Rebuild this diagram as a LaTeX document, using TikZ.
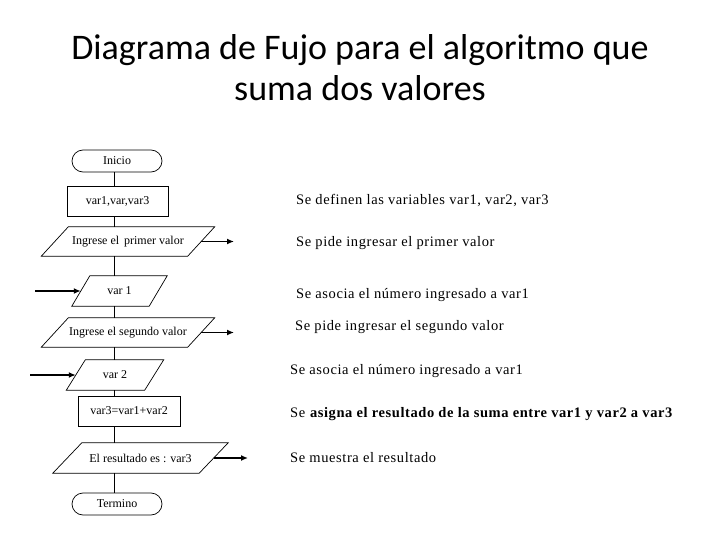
\documentclass[tikz,border=0pt]{standalone}
\usepackage{fontspec}
\setmainfont{Liberation Serif}
\newfontfamily\titlefont{Carlito}
\newfontfamily\notefont[LetterSpace=4]{Liberation Serif}
\usetikzlibrary{arrows.meta}
\begin{document}
\begin{tikzpicture}[x=1pt,y=-1pt,
  term/.style={draw,line width=0.7pt,rounded corners=11pt,minimum width=90pt,minimum height=22pt,inner sep=0pt,font=\fontsize{12}{14}\selectfont},
  procbox/.style={draw,line width=0.7pt,minimum height=30pt,inner sep=0pt,font=\fontsize{12}{14}\selectfont},
  iobox/.style={minimum height=29pt,inner sep=0pt,font=\fontsize{12}{14}\selectfont},
  link/.style={line width=0.7pt},
  sidearrow/.style={line width=1.6pt,-{Latex[length=7pt,width=6pt]}},
  note/.style={anchor=base west,inner sep=0pt,font=\notefont\fontsize{14.5}{16}\selectfont},
  titletext/.style={anchor=base,inner sep=0pt,font=\titlefont\fontsize{36}{42}\selectfont}
]
\useasboundingbox (0,0) rectangle (720,540);
\fill[white] (0,0) rectangle (720,540);

\node[titletext] (title1) at (360,60) {Diagrama de Fujo para el algoritmo que};
\node[titletext] (title2) at (360,101) {suma dos valores};

% parallelogram drawer
\newcommand{\paradraw}[2]{%
  \draw[line width=0.7pt] ([xshift=-#2]#1.south west) -- ([xshift=#2]#1.north west)
    -- ([xshift=#2]#1.north east) -- ([xshift=-#2]#1.south east) -- cycle;}

\coordinate (spine) at (114.5,0);

\node[term] (ini) at (117,161) {Inicio};
\node[procbox,minimum width=101pt] (def) at (117.5,201.5) {var1,var,var3};
\node[iobox,minimum width=146pt] (in1) at (128,241.5) {Ingrese el\, primer valor};
\paradraw{in1}{13.5pt}
\node[iobox,minimum width=77pt,minimum height=30pt] (v1) at (119.5,291) {var 1};
\paradraw{v1}{9pt}
\node[iobox,minimum width=146pt] (in2) at (128,332.5) {Ingrese el segundo valor};
\paradraw{in2}{13.5pt}
\node[iobox,minimum width=78pt,minimum height=30pt] (v2) at (115,375) {var 2};
\paradraw{v2}{9.5pt}
\node[procbox,minimum width=102pt] (sum) at (129,411) {var3=var1+var2};
\node[iobox,minimum width=146pt,minimum height=30pt] (res) at (140.5,458) {El resultado es : var3};
\paradraw{res}{14.5pt}
\node[term] (fin) at (117,504) {Termino};

\draw[link] (ini.south -| spine) -- (def.north -| spine);
\draw[link] (def.south -| spine) -- (in1.north -| spine);
\draw[link] (in1.south -| spine) -- (v1.north -| spine);
\draw[link] (v1.south -| spine) -- (in2.north -| spine);
\draw[link] (in2.south -| spine) -- (v2.north -| spine);
\draw[link] (v2.south -| spine) -- (sum.north -| spine);
\draw[link] (sum.south -| spine) -- (res.north -| spine);
\draw[link] (res.south -| spine) -- (fin.north -| spine);

\coordinate (o1) at (234,241.5);
\coordinate (o2) at (234,332.5);
\coordinate (o3) at (248,458);
\coordinate (i1) at (35,291);
\coordinate (i2) at (30,375);
\draw[sidearrow] (in1.east) -- (o1);
\draw[sidearrow] (in2.east) -- (o2);
\draw[sidearrow] (res.east) -- (o3);
\draw[sidearrow] (i1) -- (v1.west);
\draw[sidearrow] (i2) -- (v2.west);

\node[note] (n1) at (296,205) {Se definen las variables var1, var2, var3};
\node[note] (n2) at (296,247) {Se pide ingresar el primer valor};
\node[note] (n3) at (296,298) {Se asocia el número ingresado a var1};
\node[note] (n4) at (295,330) {Se pide ingresar el segundo valor};
\node[note] (n5) at (290,374) {Se asocia el número ingresado a var1};
\node[note] (n6) at (290,417) {Se \textbf{asigna el resultado de la suma entre var1 y var2 a var3}};
\node[note] (n7) at (290,462) {Se muestra el resultado};
\end{tikzpicture}
\end{document}
